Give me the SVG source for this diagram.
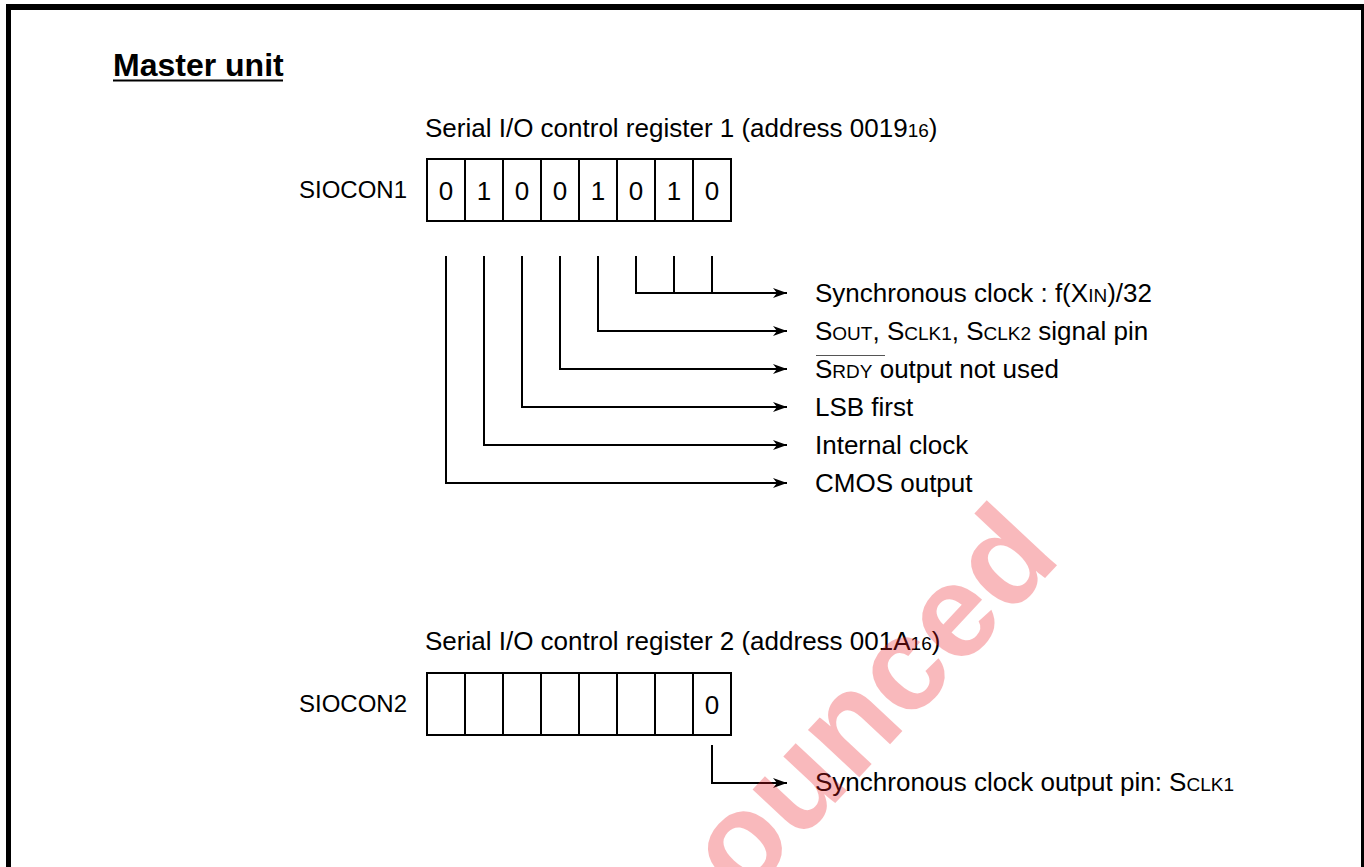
<svg xmlns="http://www.w3.org/2000/svg" width="1364" height="867" viewBox="0 0 1364 867">
<style>
.t{font-family:"Liberation Sans",Arial,Helvetica,sans-serif;font-size:26px;fill:#000}
.s{font-size:19px}
.reg{font-size:24px}
.ttl{font-family:"Liberation Sans",Arial,Helvetica,sans-serif;font-size:32px;font-weight:bold;fill:#000}
.ln{stroke:#000;stroke-width:2;fill:none}
.arr{stroke:#000;stroke-width:2;fill:none;marker-end:url(#ah)}
.box{stroke:#000;stroke-width:2;fill:#fff}
.frame{stroke:#000;fill:none}
.wm{font-family:"Liberation Sans",Arial,Helvetica,sans-serif;font-size:132px;font-weight:bold;fill:#ee1c25;opacity:0.3}
</style>
<defs>
<marker id="ah" markerUnits="userSpaceOnUse" markerWidth="16" markerHeight="12" refX="14" refY="6" orient="auto">
<path d="M0,1 L14,6 L0,11 L4,6 z" fill="#000"/>
</marker>
</defs>
<rect x="0" y="0" width="1364" height="867" fill="#fff"/>
<g id="frame">
<line class="frame" x1="8.5" y1="4" x2="8.5" y2="867" stroke-width="5"/>
<line class="frame" x1="6" y1="7" x2="1364" y2="7" stroke-width="6"/>
<line class="frame" x1="1363.5" y1="4" x2="1363.5" y2="867" stroke-width="5"/>
</g>
<g id="title">
<text class="ttl" x="113" y="76">Master unit</text>
<line x1="113" y1="80.5" x2="283" y2="80.5" stroke="#000" stroke-width="2"/>
</g>
<g id="register1">
<text class="t" x="425" y="137">Serial I/O control register 1 (address 0019<tspan class="s">16</tspan>)</text>
<text class="t reg" x="407" y="198" text-anchor="end">SIOCON1</text>
<rect class="box" x="427" y="159" width="304" height="62"/>
<path class="ln" d="M465,159V221M503,159V221M541,159V221M579,159V221M617,159V221M655,159V221M693,159V221"/>
<g class="t" text-anchor="middle">
<text x="446" y="200">0</text>
<text x="484" y="200">1</text>
<text x="522" y="200">0</text>
<text x="560" y="200">0</text>
<text x="598" y="200">1</text>
<text x="636" y="200">0</text>
<text x="674" y="200">1</text>
<text x="712" y="200">0</text>
</g>
</g>
<g id="connectors">
<path class="arr" d="M636,256V293H787"/>
<path class="ln" d="M674,256V293M712,256V293"/>
<path class="arr" d="M598,256V331H787"/>
<path class="arr" d="M560,256V369H787"/>
<path class="arr" d="M522,256V407H787"/>
<path class="arr" d="M484,256V445H787"/>
<path class="arr" d="M446,256V483H787"/>
<path class="arr" d="M712,745V783H787"/>
</g>
<g id="labels1">
<text class="t" x="815" y="302">Synchronous clock : f(X<tspan class="s">IN</tspan>)/32</text>
<text class="t" x="815" y="340">S<tspan class="s">OUT</tspan>, S<tspan class="s">CLK1</tspan>, S<tspan class="s">CLK2</tspan> signal pin</text>
<line x1="816" y1="355.5" x2="885" y2="355.5" stroke="#555" stroke-width="1"/>
<text class="t" x="815" y="378">S<tspan class="s">RDY</tspan> output not used</text>
<text class="t" x="815" y="416">LSB first</text>
<text class="t" x="815" y="454">Internal clock</text>
<text class="t" x="815" y="492">CMOS output</text>
</g>
<g id="register2">
<text class="t" x="425" y="650">Serial I/O control register 2 (address 001A<tspan class="s">16</tspan>)</text>
<text class="t reg" x="407" y="712" text-anchor="end">SIOCON2</text>
<rect class="box" x="427" y="673" width="304" height="62"/>
<path class="ln" d="M465,673V735M503,673V735M541,673V735M579,673V735M617,673V735M655,673V735M693,673V735"/>
<text class="t" x="712" y="714" text-anchor="middle">0</text>
</g>
<g id="label2">
<text class="t" x="815" y="791">Synchronous clock output pin: S<tspan class="s">CLK1</tspan></text>
</g>
<text class="wm" transform="translate(743,902) rotate(-47)">ounced</text>
</svg>
